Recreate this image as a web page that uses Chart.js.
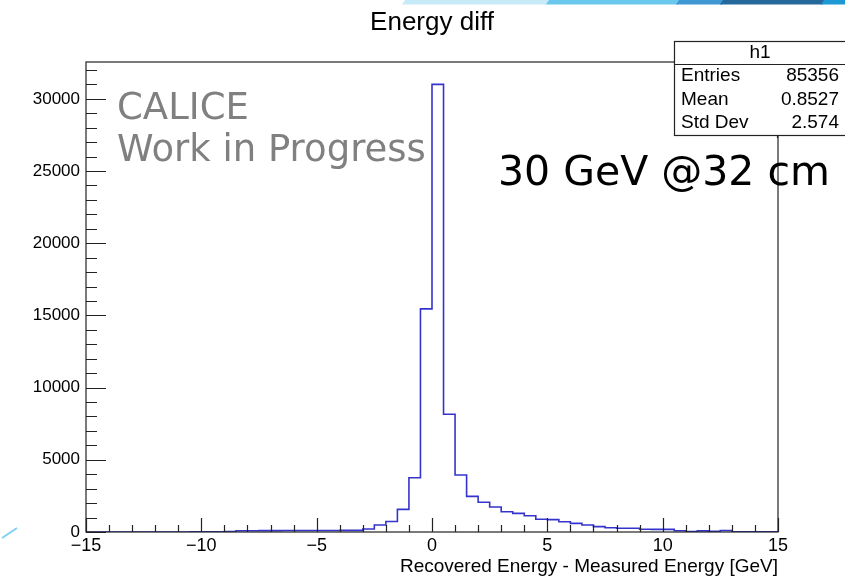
<!DOCTYPE html>
<html>
<head>
<meta charset="utf-8">
<script src="https://cdn.jsdelivr.net/npm/chart.js@4.4.1/dist/chart.umd.min.js"></script>
<style>
html,body{margin:0;padding:0;background:#fff;}
canvas{display:block;}
</style>
</head>
<body>
<canvas id="c" width="845" height="578"></canvas>
<script>
// ---- data ----
const binLowEdges = [-15,-14.5,-14,-13.5,-13,-12.5,-12,-11.5,-11,-10.5,-10,-9.5,-9,-8.5,-8,-7.5,-7,-6.5,-6,-5.5,-5,-4.5,-4,-3.5,-3,-2.5,-2,-1.5,-1,-0.5,0,0.5,1,1.5,2,2.5,3,3.5,4,4.5,5,5.5,6,6.5,7,7.5,8,8.5,9,9.5,10,10.5,11,11.5,12,12.5,13,13.5,14,14.5];
const binCounts = [0,0,0,0,0,0,0,0,0,15,20,20,25,90,90,95,95,100,100,100,105,105,110,115,210,480,730,1570,3760,15450,31000,8150,3950,2470,2060,1730,1400,1290,1130,880,860,715,600,485,370,290,260,255,190,185,185,90,30,80,40,100,20,20,20,15];
const xUpperEdge = 15;
const xTickValues = [-15,-10,-5,0,5,10,15];
const yTickValues = [0,5000,10000,15000,20000,25000,30000];
const titleText = "Energy diff";
const xTitle = "Recovered Energy - Measured Energy [GeV]";
const statsName = "h1";
const statsRows = [["Entries","85356"],["Mean","0.8527"],["Std Dev","2.574"]];
const overlayGray = ["CALICE","Work in Progress"];
const overlayBlack = "30 GeV @32 cm";

const points = binLowEdges.map((x,i)=>({x:x, y:binCounts[i]}));
points.push({x:xUpperEdge, y:binCounts[binCounts.length-1]});

const FONT = "'Liberation Sans', Arial, Helvetica, sans-serif";

const decoPlugin = {
  id:'deco',
  beforeDraw(chart){
    const ctx = chart.ctx;
    ctx.save();
    ctx.fillStyle = '#fff';
    ctx.fillRect(0,0,chart.width,chart.height);
    const segs = [[402,548,'#c6eaf7'],[546,678,'#6ac8ee'],[676,722,'#3f98d4'],[720,823,'#25689b'],[821,846,'#1d9ad3']];
    segs.forEach(s=>{
      ctx.fillStyle = s[2];
      ctx.beginPath();
      ctx.moveTo(s[0]+3,0); ctx.lineTo(s[1]+3,0); ctx.lineTo(s[1],4.5); ctx.lineTo(s[0],4.5);
      ctx.closePath(); ctx.fill();
    });
    ctx.strokeStyle = '#7fd0f0';
    ctx.lineWidth = 2;
    ctx.beginPath(); ctx.moveTo(2,538); ctx.lineTo(17,528); ctx.stroke();
    ctx.restore();
  },
  afterDatasetsDraw(chart){
    const ctx = chart.ctx, a = chart.chartArea;
    const xs = chart.scales.x, ys = chart.scales.y;
    ctx.save();
    ctx.strokeStyle = '#222';
    ctx.lineWidth = 1.2;
    ctx.strokeRect(a.left, a.top, a.right-a.left, a.bottom-a.top);
    ctx.beginPath();
    for (let v=-15; v<=15; v+=1){
      const px = Math.round(xs.getPixelForValue(v))+0.5;
      const len = (v%5===0) ? 14 : 7;
      ctx.moveTo(px, a.bottom); ctx.lineTo(px, a.bottom-len);
    }
    for (let v=0; v<=32000; v+=1000){
      const py = Math.round(ys.getPixelForValue(v))+0.5;
      const len = (v%5000===0) ? 20 : 11;
      ctx.moveTo(a.left, py); ctx.lineTo(a.left+len, py);
    }
    ctx.stroke();
    ctx.restore();
  },
  afterDraw(chart){
    const ctx = chart.ctx;
    ctx.save();
    ctx.fillStyle = '#000';
    ctx.font = "26px " + FONT;
    ctx.textAlign = 'center';
    ctx.textBaseline = 'alphabetic';
    ctx.fillText(titleText, 432, 29.5);
    const bx = 674, by = 41, bw = 175, bh = 94;
    ctx.fillStyle = '#fff';
    ctx.fillRect(bx, by, bw, bh);
    ctx.strokeStyle = '#222';
    ctx.lineWidth = 1.2;
    ctx.strokeRect(bx+0.5, by+0.5, bw, bh);
    ctx.beginPath(); ctx.moveTo(bx, 64.5); ctx.lineTo(bx+bw, 64.5); ctx.stroke();
    ctx.beginPath(); ctx.moveTo(777.5, by+bh); ctx.lineTo(777.5, 138); ctx.stroke();
    ctx.fillStyle = '#000';
    ctx.font = "19px " + FONT;
    ctx.textBaseline = 'middle';
    ctx.textAlign = 'center';
    ctx.fillText(statsName, 760, 53);
    const rowY = [76, 100, 123];
    statsRows.forEach((r,i)=>{
      ctx.textAlign = 'left'; ctx.fillText(r[0], 681, rowY[i]);
      ctx.textAlign = 'right'; ctx.fillText(r[1], 839, rowY[i]);
    });
    ctx.textBaseline = 'alphabetic';
    ctx.textAlign = 'left';
    ctx.fillStyle = '#808080';
    ctx.font = "37px 'DejaVu Sans', sans-serif";
    ctx.fillText(overlayGray[0], 117, 118.5);
    ctx.fillText(overlayGray[1], 117, 160.5);
    ctx.fillStyle = '#000';
    ctx.font = "41px 'DejaVu Sans', sans-serif";
    ctx.fillText(overlayBlack, 498, 185);
    ctx.restore();
  }
};

new Chart(document.getElementById('c'), {
  type:'line',
  data:{datasets:[{
    data: points,
    stepped: true,
    borderColor:'#3434cc',
    borderWidth:1.6,
    pointRadius:0,
    fill:false,
    tension:0
  }]},
  options:{
    responsive:false,
    animation:false,
    devicePixelRatio:1,
    layout:{padding:{left:0,right:67,top:62,bottom:0}},
    plugins:{legend:{display:false},tooltip:{enabled:false},title:{display:false}},
    scales:{
      x:{
        type:'linear', min:-15, max:15,
        afterFit(s){ s.height = 46; },
        afterBuildTicks(s){ s.ticks = xTickValues.map(v=>({value:v})); },
        grid:{display:false, drawTicks:false},
        border:{display:false},
        ticks:{color:'#000', font:{family:FONT, size:18}, padding:3, maxRotation:0, autoSkip:false,
          callback:(v)=>String(v).replace('-','\u2212')},
        title:{display:true, text:xTitle, align:'end', color:'#000', font:{family:FONT,size:19}, padding:{top:0,bottom:0}}
      },
      y:{
        type:'linear', min:0, max:32550,
        afterFit(s){ s.width = 86; },
        afterBuildTicks(s){ s.ticks = yTickValues.map(v=>({value:v})); },
        grid:{display:false, drawTicks:false},
        border:{display:false},
        ticks:{color:'#000', font:{family:FONT, size:17}, padding:6, autoSkip:false,
          callback:(v)=>String(v)}
      }
    }
  },
  plugins:[decoPlugin]
});
</script>
</body>
</html>
